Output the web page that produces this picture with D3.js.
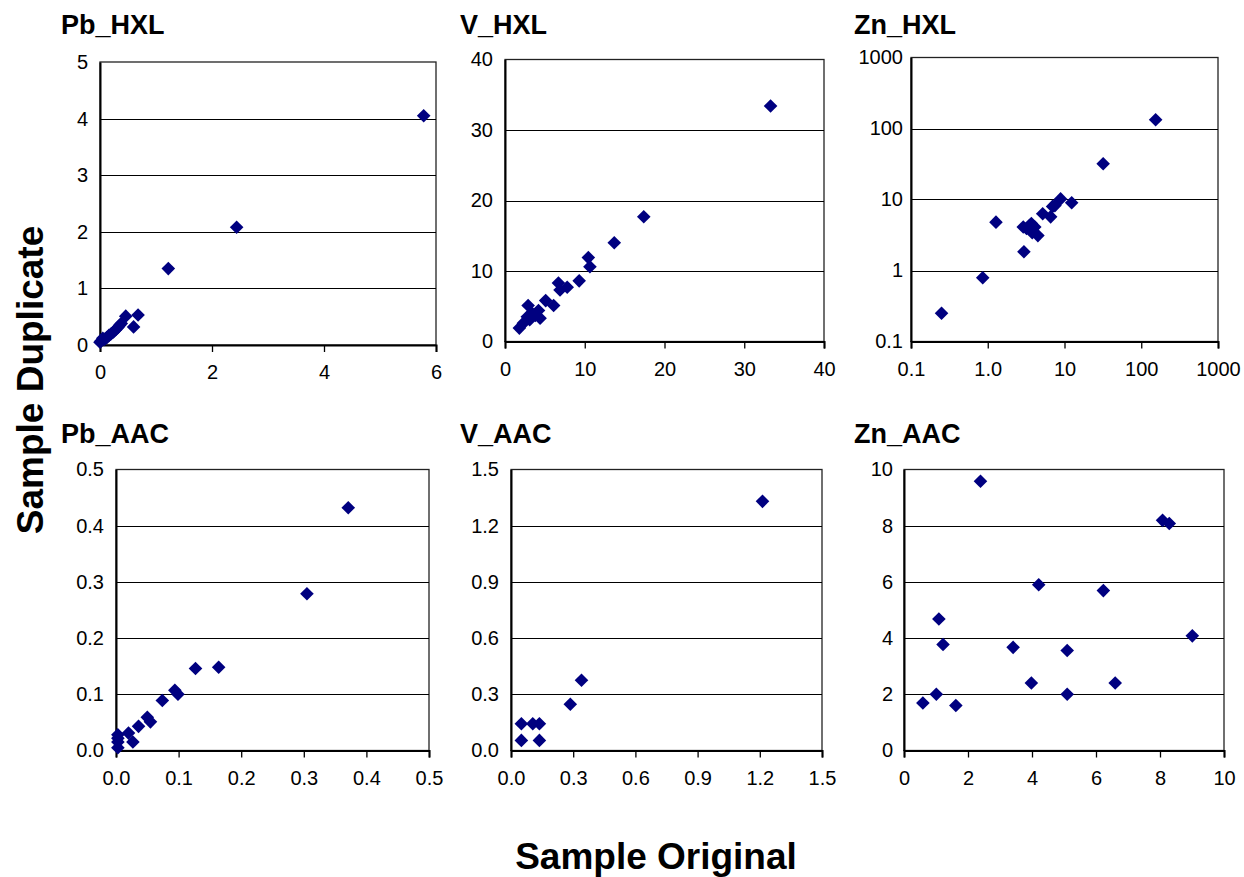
<!DOCTYPE html>
<html>
<head>
<meta charset="utf-8">
<script src="https://cdn.jsdelivr.net/npm/d3@7"></script>
<style>
  html, body { margin: 0; padding: 0; background: #fff; }
  svg { display: block; font-family: Arial, "Liberation Sans", sans-serif; }
</style>
</head>
<body>
<svg id="chart" width="1244" height="877"></svg>
<script>
// ---------- data ----------
const panelNames = ["Pb_HXL", "V_HXL", "Zn_HXL", "Pb_AAC", "V_AAC", "Zn_AAC"];

const pbHxlOriginal  = [5.78, 2.44, 1.22, 0.68, 0.46, 0.60, 0.38, 0.35, 0.32, 0.28, 0.24, 0.20, 0.16, 0.12, 0.08, 0.05, 0.02, 0.00];
const pbHxlDuplicate = [4.05, 2.08, 1.35, 0.53, 0.51, 0.32, 0.38, 0.35, 0.31, 0.27, 0.23, 0.20, 0.17, 0.13, 0.10, 0.12, 0.07, 0.05];

const vHxlOriginal  = [33.3, 17.4, 13.7, 10.45, 10.65, 9.3, 7.8, 6.7, 6.9, 5.1, 6.1, 2.9, 4.2, 4.4, 3.1, 2.8, 3.8, 2.3, 1.8, 3.4];
const vHxlDuplicate = [33.4, 17.7, 14.0, 11.9, 10.6, 8.6, 7.7, 8.3, 7.3, 5.8, 5.1, 5.1, 4.4, 3.3, 3.1, 3.5, 3.7, 2.6, 1.9, 4.0];

const znHxlOriginal  = [154, 31.9, 12.4, 8.9, 7.5, 7.0, 6.6, 5.2, 1.28, 2.9, 3.5, 3.7, 4.1, 3.8, 4.5, 3.2, 2.96, 0.86, 0.25];
const znHxlDuplicate = [133, 31.9, 9.0, 10.2, 8.2, 8.0, 5.7, 6.3, 4.8, 4.1, 4.3, 4.6, 4.1, 3.4, 3.1, 3.9, 1.84, 0.79, 0.25];

const pbAacOriginal  = [0.371, 0.305, 0.127, 0.164, 0.094, 0.099, 0.074, 0.050, 0.055, 0.036, 0.020, 0.027, 0.003, 0.003, 0.003, 0.003];
const pbAacDuplicate = [0.432, 0.279, 0.146, 0.148, 0.107, 0.100, 0.089, 0.059, 0.051, 0.043, 0.031, 0.015, 0.028, 0.022, 0.015, 0.005];

const vAacOriginal  = [1.213, 0.340, 0.286, 0.050, 0.105, 0.137, 0.050, 0.137];
const vAacDuplicate = [1.330, 0.375, 0.247, 0.143, 0.143, 0.143, 0.054, 0.054];

const znAacOriginal  = [2.39, 8.08, 8.29, 4.21, 6.23, 1.09, 1.22, 9.01, 3.41, 5.10, 3.98, 6.60, 5.10, 1.01, 0.59, 1.62];
const znAacDuplicate = [9.58, 8.19, 8.08, 5.90, 5.69, 4.68, 3.77, 4.08, 3.67, 3.56, 2.40, 2.40, 2.00, 2.00, 1.69, 1.60];

const pbHxlXTicks = [0, 2, 4, 6],            pbHxlXLabels = ["0", "2", "4", "6"];
const pbHxlYTicks = [0, 1, 2, 3, 4, 5],      pbHxlYLabels = ["0", "1", "2", "3", "4", "5"];
const vHxlXTicks = [0, 10, 20, 30, 40],      vHxlXLabels = ["0", "10", "20", "30", "40"];
const vHxlYTicks = [0, 10, 20, 30, 40],      vHxlYLabels = ["0", "10", "20", "30", "40"];
const znHxlXTicks = [0.1, 1, 10, 100, 1000], znHxlXLabels = ["0.1", "1.0", "10", "100", "1000"];
const znHxlYTicks = [0.1, 1, 10, 100, 1000], znHxlYLabels = ["0.1", "1", "10", "100", "1000"];
const pbAacXTicks = [0, 0.1, 0.2, 0.3, 0.4, 0.5], pbAacXLabels = ["0.0", "0.1", "0.2", "0.3", "0.4", "0.5"];
const pbAacYTicks = [0, 0.1, 0.2, 0.3, 0.4, 0.5], pbAacYLabels = ["0.0", "0.1", "0.2", "0.3", "0.4", "0.5"];
const vAacXTicks = [0, 0.3, 0.6, 0.9, 1.2, 1.5], vAacXLabels = ["0.0", "0.3", "0.6", "0.9", "1.2", "1.5"];
const vAacYTicks = [0, 0.3, 0.6, 0.9, 1.2, 1.5], vAacYLabels = ["0.0", "0.3", "0.6", "0.9", "1.2", "1.5"];
const znAacXTicks = [0, 2, 4, 6, 8, 10],     znAacXLabels = ["0", "2", "4", "6", "8", "10"];
const znAacYTicks = [0, 2, 4, 6, 8, 10],     znAacYLabels = ["0", "2", "4", "6", "8", "10"];

const xAxisTitle = "Sample Original";
const yAxisTitle = "Sample Duplicate";

// ---------- layout (pixel boxes of the plot areas) ----------
const panels = [
  { name: panelNames[0], xs: pbHxlOriginal, ys: pbHxlDuplicate, log: false, xT: pbHxlXTicks, xL: pbHxlXLabels, yT: pbHxlYTicks, yL: pbHxlYLabels,
    box: { l: 100, r: 436, t: 62, b: 345 }, titleX: 61, titleY: 34, yPad: 12 },
  { name: panelNames[1], xs: vHxlOriginal, ys: vHxlDuplicate, log: false, xT: vHxlXTicks, xL: vHxlXLabels, yT: vHxlYTicks, yL: vHxlYLabels,
    box: { l: 505, r: 824, t: 59.5, b: 341.5 }, titleX: 460, titleY: 34, yPad: 12 },
  { name: panelNames[2], xs: znHxlOriginal, ys: znHxlDuplicate, log: true, xT: znHxlXTicks, xL: znHxlXLabels, yT: znHxlYTicks, yL: znHxlYLabels,
    box: { l: 911, r: 1218, t: 57.5, b: 341.5 }, titleX: 854, titleY: 34, yPad: 8 },
  { name: panelNames[3], xs: pbAacOriginal, ys: pbAacDuplicate, log: false, xT: pbAacXTicks, xL: pbAacXLabels, yT: pbAacYTicks, yL: pbAacYLabels,
    box: { l: 116, r: 429, t: 469.5, b: 750.5 }, titleX: 61, titleY: 443, yPad: 12 },
  { name: panelNames[4], xs: vAacOriginal, ys: vAacDuplicate, log: false, xT: vAacXTicks, xL: vAacXLabels, yT: vAacYTicks, yL: vAacYLabels,
    box: { l: 511, r: 822, t: 469.5, b: 750.5 }, titleX: 460, titleY: 443, yPad: 12 },
  { name: panelNames[5], xs: znAacOriginal, ys: znAacDuplicate, log: false, xT: znAacXTicks, xL: znAacXLabels, yT: znAacYTicks, yL: znAacYLabels,
    box: { l: 904, r: 1224, t: 469.5, b: 750.5 }, titleX: 854, titleY: 443, yPad: 11 }
];

const svg = d3.select("#chart");
const markerColor = "#000080";
const diamond = "M0,-6.8L6.8,0L0,6.8L-6.8,0Z";
const fontStack = "Arial, 'Liberation Sans', sans-serif";

panels.forEach(p => {
  const bx = p.box;
  const xDom = d3.extent(p.xT), yDom = d3.extent(p.yT);
  const x = (p.log ? d3.scaleLog() : d3.scaleLinear()).domain(xDom).range([bx.l, bx.r]);
  const y = (p.log ? d3.scaleLog() : d3.scaleLinear()).domain(yDom).range([bx.b, bx.t]);
  const g = svg.append("g");

  // title
  g.append("text").attr("x", p.titleX).attr("y", p.titleY)
    .attr("font-size", 27).attr("font-weight", "bold").attr("fill", "#000").text(p.name);

  // plot frame
  g.append("rect").attr("x", bx.l).attr("y", bx.t).attr("width", bx.r - bx.l).attr("height", bx.b - bx.t)
    .attr("fill", "#fff").attr("stroke", "#222").attr("stroke-width", 1.3);

  // gridlines
  g.append("g").selectAll("line").data(p.yT.slice(1, -1)).join("line")
    .attr("x1", bx.l).attr("x2", bx.r).attr("y1", d => Math.round(y(d)) + 0.5).attr("y2", d => Math.round(y(d)) + 0.5)
    .attr("stroke", "#000").attr("stroke-width", 1);

  // x axis
  const xAxis = d3.axisBottom(x).tickValues(p.xT).tickFormat((d, i) => p.xL[i]).tickSize(7).tickPadding(13);
  const xg = g.append("g").attr("transform", `translate(0,${bx.b})`).call(xAxis);
  xg.select(".domain").attr("stroke", "#000").attr("stroke-width", 2);
  xg.selectAll(".tick line").attr("stroke", "#000").attr("stroke-width", 1.3);
  xg.selectAll(".tick text").attr("font-size", 20).attr("fill", "#000").attr("font-family", fontStack);

  // y axis
  const yAxis = d3.axisLeft(y).tickValues(p.yT).tickFormat((d, i) => p.yL[i]).tickSize(0).tickPadding(p.yPad);
  const yg = g.append("g").attr("transform", `translate(${bx.l},0)`).call(yAxis);
  yg.select(".domain").attr("stroke", "#000").attr("stroke-width", 2);
  yg.selectAll(".tick text").attr("font-size", 20).attr("fill", "#000").attr("font-family", fontStack);

  // points
  g.append("g").selectAll("path").data(p.xs.map((v, i) => [v, p.ys[i]])).join("path")
    .attr("d", diamond)
    .attr("transform", d => `translate(${x(d[0])},${y(d[1])})`)
    .attr("fill", markerColor);
});

// axis titles
svg.append("text").attr("x", 656).attr("y", 869).attr("text-anchor", "middle")
  .attr("font-size", 37).attr("font-weight", "bold").attr("fill", "#000").text(xAxisTitle);
svg.append("text").attr("transform", "translate(43,380) rotate(-90)").attr("text-anchor", "middle")
  .attr("font-size", 37).attr("font-weight", "bold").attr("fill", "#000").text(yAxisTitle);
</script>
</body>
</html>
